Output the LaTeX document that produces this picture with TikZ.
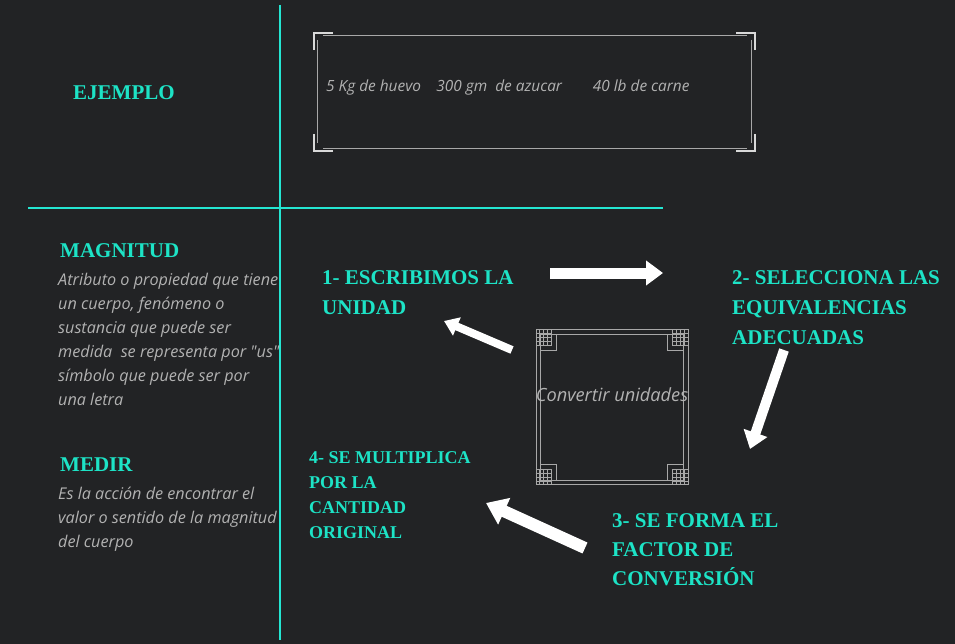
\documentclass[tikz,border=0pt]{standalone}
\usepackage{fontspec}
\setmainfont{Liberation Serif}
\newfontfamily\bodyfont{Open Sans}
\usetikzlibrary{arrows.meta, positioning}
\definecolor{fondo}{HTML}{222325}
\definecolor{turquesa}{HTML}{24E6D2}
\definecolor{titulo}{HTML}{1DE3C6}
\definecolor{gris}{HTML}{B2B2B2}
\definecolor{marco}{HTML}{A8A8A8}

\begin{document}
\begin{tikzpicture}[x=1pt, y=-1pt,
                heading/.style={anchor=north west, inner sep=0pt, align=left, text=titulo, font=\fontsize{21}{30}\selectfont\bfseries},
                body/.style={anchor=north west, inner sep=0pt, align=left, text=gris, font=\bodyfont\itshape\fontsize{16.2}{24}\selectfont},
                divider/.style={draw=turquesa, line width=2.5pt},
                frame/.style={draw=marco, line width=0.8pt},
                bracket/.style={draw=white!85!black, line width=1.2pt},
                bigarrow/.style={draw=white, line width=11pt, -{Triangle[width=24pt, length=17pt]}}
            ]

\fill[fondo] (0,0) rectangle (955,644);
            \useasboundingbox (0,0) rectangle (955,644);

\draw[divider] (280,5) -- (280,640);
            \draw[divider] (28,208) -- (663,208);

% columna izquierda
            \node[heading] (ejemplo) at (73,85) {EJEMPLO};
            \node[heading] (magnitud) at (60,243) {MAGNITUD};
            \node[body] (magtexto) at (58,273) {Atributo o propiedad que tiene\\un cuerpo, fenómeno o\\sustancia que puede ser\\medida\ \ se representa por "us"\\símbolo que puede ser por\\una letra};
            \node[heading] (medir) at (60,458) {MEDIR};
            \node[body] (medtexto) at (58,487) {Es la acción de encontrar el\\valor o sentido de la magnitud\\del cuerpo};

% recuadro de ejemplos
            \node[body, font=\bodyfont\itshape\fontsize{15.4}{18}\selectfont] (ejemplos) at (326,80) {5 Kg de huevo\quad 300 gm\ \ de azucar\qquad 40 lb de carne};
            \draw[frame] (323,35) -- (747,35);
            \draw[frame] (323,148) -- (747,148);
            \draw[frame] (317,40) -- (317,143);
            \draw[frame] (751,40) -- (751,143);
            \draw[bracket] (314,50) -- (314,33) -- (333,33);
            \draw[bracket] (736,33) -- (755,33) -- (755,50);
            \draw[bracket] (314,134) -- (314,151) -- (333,151);
            \draw[bracket] (736,151) -- (755,151) -- (755,134);

% recuadro central
            \node[frame, minimum width=152pt, minimum height=155pt] (caja) at (612,407) {};
            \draw[frame] ([shift={(5,5)}]caja.north west) rectangle ([shift={(-5,-5)}]caja.south east);
            \foreach \esq/\sx/\sy in {north west/1/1, north east/-1/1, south west/1/-1, south east/-1/-1}{
                \begin{scope}[shift={(caja.\esq)}, xscale=\sx, yscale=\sy]
                    \foreach \k in {4,8,12,16}{
                        \draw[frame] (0,\k) -- (16,\k);
                        \draw[frame] (\k,0) -- (\k,16);
                    }
                    \draw[frame] (16,5) -- (21,5) -- (21,21) -- (5,21) -- (5,16);
                \end{scope}
            }
            \node[text=gris, font=\bodyfont\itshape\fontsize{18.2}{20}\selectfont, inner sep=0pt] (convertir) at (612,395) {Convertir unidades};

% pasos
            \node[heading] (paso1) at (322,270) {1- ESCRIBIMOS LA\\UNIDAD};
            \node[heading] (paso2) at (732,270) {2- SELECCIONA LAS\\EQUIVALENCIAS\\ADECUADAS};
            \node[heading, font=\fontsize{21}{29}\selectfont\bfseries] (paso3) at (612,513) {3- SE FORMA EL\\FACTOR DE\\CONVERSIÓN};
            \node[heading, font=\fontsize{18}{25}\selectfont\bfseries] (paso4) at (309,451) {4- SE MULTIPLICA\\POR LA\\CANTIDAD\\ORIGINAL};

% flechas
            \coordinate (f1a) at (550,273);
            \coordinate (f1b) at (663,273);
            \coordinate (f2a) at (784,350);
            \coordinate (f2b) at (750,449);
            \coordinate (f3a) at (585,548);
            \coordinate (f3b) at (486,503);
            \coordinate (f4a) at (512,350);
            \coordinate (f4b) at (444,321);
            \draw[bigarrow] (f1a) -- (f1b);
            \draw[bigarrow, line width=10pt] (f2a) -- (f2b);
            \draw[bigarrow, line width=12pt, -{Triangle[width=28pt, length=20pt]}] (f3a) -- (f3b);
            \draw[bigarrow, line width=8pt, -{Triangle[width=19pt, length=14pt]}] (f4a) -- (f4b);

\end{tikzpicture}
\end{document}
